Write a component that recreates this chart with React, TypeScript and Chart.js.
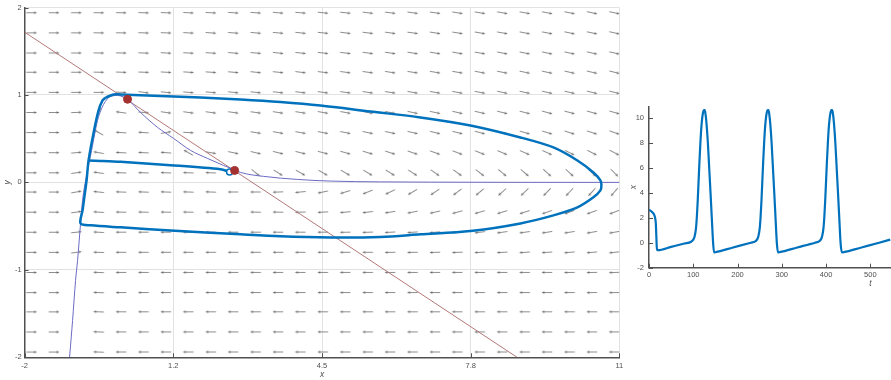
import React, { useEffect, useRef } from 'react';
import { Chart, registerables } from 'chart.js';

Chart.register(...registerables);

// ---------- main phase plane ----------
const X_TICKS = [-2, 1.25, 4.5, 7.75, 11];
const X_TICK_LABELS = ['-2', '1.2', '4.5', '7.8', '11'];
const Y_TICKS = [-2, -1, 0, 1, 2];

// direction-field grid
const FIELD_X = [-1.85, -1.36, -0.87, -0.38, 0.11, 0.6, 1.09, 1.58, 2.07, 2.56, 3.05, 3.54, 4.03, 4.52, 5.01, 5.5, 5.99, 6.48, 6.97, 7.46, 7.95, 8.44, 8.93, 9.42, 9.91, 10.4, 10.89];
const FIELD_Y = [1.94, 1.71, 1.48, 1.26, 1.03, 0.8, 0.57, 0.34, 0.11, -0.11, -0.34, -0.57, -0.8, -1.03, -1.26, -1.48, -1.71, -1.94];
// arrow direction on screen, degrees counter-clockwise from +x (null = arrow hidden under the nullcline)
const FIELD_ANGLE: (number | null)[][] = [
  [0, 0, 0, -1, -1, -2, -2, -3, -3, -4, -4, -5, -5, -6, -6, -7, -7, -8, -8, -9, -9, -10, -10, -11, -11, -12, -12],
  [0, 0, 0, -1, -1, -2, -2, -3, -4, -4, -5, -5, -6, -6, -7, -7, -8, -8, -9, -9, -10, -10, -11, -11, -12, -12, -13],
  [0, 0, 0, -1, -1, -2, -3, -3, -4, -5, -5, -6, -6, -7, -7, -8, -8, -9, -9, -10, -10, -11, -11, -12, -12, -13, -13],
  [0, 0, 0, -1, -2, -2, -3, -4, -4, -5, -6, -6, -7, -7, -8, -8, -9, -9, -10, -10, -11, -11, -12, -12, -13, -13, -14],
  [0, 0, 0, 0, -3, -8, -6, -5, -5, -6, -6, -7, -7, -8, -8, -9, -9, -10, -10, -11, -11, -12, -12, -13, -13, -14, -14],
  [0, 0, 2, 70, 172, -5, -8, -8, -8, -8, -8, -9, -9, -10, -10, -11, -11, -12, -12, -13, -13, -14, -14, -15, -15, -16, -16],
  [0, 0, 3, 150, 176, 176, 10, -3, -6, -8, -9, -10, -10, -11, -11, -12, -12, -13, -14, -14, -15, -16, -16, -17, -18, -18, -19],
  [0, 0, 5, 170, 177, 177, 176, 150, -10, -12, -13, -14, -14, -15, -16, -17, -18, -19, -20, -21, -22, -23, -24, -25, -26, -27, -28],
  [0, 0, 8, 172, 178, 178, 178, 178, 178, 175, -40, -32, -30, -30, -30, -31, -32, -33, -35, -36, -38, -40, -41, -42, -43, -44, -45],
  [0, 0, 10, 174, 178, 178, 178, 178, 178, 180, 180, 182, 186, 192, 197, 202, 206, 210, 214, 217, 220, 222, 224, 226, 227, 228, 229],
  [0, 0, 8, 176, 179, 179, 179, 179, 179, 179, 179, 179, 181, 183, 185, 187, 189, 191, 193, 195, 196, 197, 198, 199, 200, 200, 201],
  [0, 0, 6, 177, 180, 180, 180, 180, 180, 180, 180, 180, 180, 180, 181, 182, 183, 184, 185, 186, 187, 188, 188, 189, 189, 190, 190],
  [0, 0, 8, 178, 180, 180, 180, 180, 180, 180, 180, 180, 180, 180, 180, 180, 181, 181, 182, 182, 183, 183, 184, 184, 185, 185, 186],
  [0, 0, null, 178, 180, 180, 180, 180, 180, 180, 180, 180, 180, 180, 180, 180, 180, 180, 180, 180, 180, 180, 180, 180, 181, 181, 182],
  [0, 0, null, 178, 180, 180, 180, 180, 180, 180, 180, 180, 180, 180, 180, 180, 180, 180, 180, 180, 180, 180, 180, 180, 180, 181, 181],
  [0, 0, null, 178, 180, 180, 180, 180, 180, 180, 180, 180, 180, 180, 180, 180, 180, 180, 180, 180, 180, 180, 180, 180, 180, 180, 180],
  [0, 0, null, 178, 180, 180, 180, 180, 180, 180, 180, 180, 180, 180, 180, 180, 180, 180, 180, 180, 180, 180, 180, 180, 180, 180, 180],
  [0, 0, null, 178, 180, 180, 180, 180, 180, 180, 180, 180, 180, 180, 180, 180, 180, 180, 180, 180, 180, 180, 180, 180, 180, 180, 180],
];

// y-nullcline (straight line)
const Y_NULL_X = [-2, 8.763];
const Y_NULL_Y = [1.718, -2];

// x-nullcline (thin curve)
const X_NULL_X = [-1.017, -0.951, -0.886, -0.842, -0.777, -0.733, -0.645, -0.536, -0.405, -0.274, -0.121, 0.032, 0.25, 0.534, 0.906, 1.256, 1.627, 1.998, 2.348, 2.566, 2.719, 3.222, 3.965, 4.686, 5.778, 6.87, 8.5, 11];
const X_NULL_Y = [-2.0, -1.577, -1.12, -0.891, -0.469, -0.206, 0.08, 0.366, 0.709, 0.891, 0.983, 0.994, 0.949, 0.8, 0.629, 0.503, 0.366, 0.274, 0.194, 0.149, 0.114, 0.069, 0.034, 0.015, 0.006, 0.003, 0.001, 0];

// limit cycle (thick)
const CYCLE_X = [-0.23, -0.056, 0.097, 0.971, 1.845, 2.719, 3.593, 4.467, 5.559, 6.652, 7.744, 8.837, 9.558, 10.082, 10.432, 10.585, 10.607, 10.585, 10.432, 10.082, 9.558, 8.837, 7.744, 6.652, 5.778, 4.686, 3.593, 2.719, 1.19, 0.097, -0.558, -0.777, -0.733, -0.689, -0.645, -0.602, -0.48, -0.383, -0.296, -0.23];
const CYCLE_Y = [0.97, 1.006, 1.006, 0.989, 0.971, 0.949, 0.92, 0.88, 0.811, 0.743, 0.651, 0.514, 0.4, 0.251, 0.114, 0.023, -0.034, -0.091, -0.171, -0.286, -0.377, -0.469, -0.557, -0.594, -0.623, -0.629, -0.617, -0.594, -0.549, -0.514, -0.491, -0.469, -0.32, -0.149, 0.023, 0.251, 0.6, 0.823, 0.937, 0.97];

// transient trajectory from the start point
const TRANS_X = [2.48, 2.28, 1.19, 0.097, -0.34, -0.602];
const TRANS_Y = [0.12, 0.15, 0.197, 0.235, 0.246, 0.251];

// equilibria and start point
const EQ_X = [0.25, 2.59];
const EQ_Y = [0.951, 0.137];
const START_X = [2.48];
const START_Y = [0.12];

// ---------- inset time series ----------
const TS_T = [0, 4, 8, 12, 14, 15.5, 16.5, 17.5, 18.5,
  20, 50, 80, 95, 100, 103, 106, 108, 110, 112, 114, 116, 118, 120, 122, 124, 126, 128, 130, 133, 136, 139, 142, 145, 147,
  150, 190, 230, 240, 244, 247, 250, 252, 254, 256, 258, 260, 262, 264, 266, 268, 270, 272, 274, 277, 280, 283, 286, 289, 291.5,
  295, 335, 375, 384, 388, 391, 394, 396, 398, 400, 402, 404, 406, 408, 410, 412, 414, 416, 418, 421, 424, 427, 430, 433, 436,
  440, 480, 520, 545];
const TS_X = [2.62, 2.55, 2.42, 2.2, 1.95, 1.5, 0.6, -0.3, -0.6,
  -0.6, -0.33, -0.06, 0.08, 0.25, 0.5, 1.1, 2.0, 3.3, 4.9, 6.5, 7.9, 9.1, 9.9, 10.4, 10.6, 10.6, 10.2, 9.5, 8.0, 6.0, 4.0, 1.9, -0.1, -0.78,
  -0.76, -0.38, 0.0, 0.1, 0.25, 0.5, 1.1, 2.0, 3.3, 4.9, 6.5, 7.9, 9.1, 9.9, 10.4, 10.6, 10.6, 10.2, 9.5, 8.0, 6.0, 4.0, 1.9, -0.1, -0.78,
  -0.76, -0.38, 0.0, 0.1, 0.25, 0.5, 1.1, 2.0, 3.3, 4.9, 6.5, 7.9, 9.1, 9.9, 10.4, 10.6, 10.6, 10.2, 9.5, 8.0, 6.0, 4.0, 1.9, -0.1, -0.78,
  -0.76, -0.38, 0.0, 0.25];
const TS_Y_TICKS = [-2, 0, 2, 4, 6, 8, 10];

const FONT = 'Liberation Sans, Arial, Helvetica, sans-serif';
const BLUE = '#0072BD';
const AXIS = '#505050';
const TEXT = '#505050';

const pts = (xs: number[], ys: number[]) => xs.map((x, i) => ({ x, y: ys[i] }));

const inwardTicks = {
  id: 'inwardTicks',
  afterDatasetsDraw(chart: any, _args: any, opts: any) {
    const { ctx, chartArea } = chart;
    const xs = chart.scales.x;
    const ys = chart.scales.y;
    ctx.save();
    ctx.strokeStyle = opts.color || AXIS;
    ctx.lineWidth = 1;
    const len = opts.len || 4;
    xs.ticks.forEach((t: any) => {
      const p = Math.round(xs.getPixelForValue(t.value)) + 0.5;
      ctx.beginPath();
      ctx.moveTo(p, chartArea.bottom);
      ctx.lineTo(p, chartArea.bottom - len);
      ctx.stroke();
    });
    ys.ticks.forEach((t: any) => {
      const p = Math.round(ys.getPixelForValue(t.value)) + 0.5;
      ctx.beginPath();
      ctx.moveTo(chartArea.left, p);
      ctx.lineTo(chartArea.left + len, p);
      ctx.stroke();
    });
    ctx.restore();
  },
};

export default function App() {
  const mainRef = useRef<HTMLCanvasElement>(null);
  const insetRef = useRef<HTMLCanvasElement>(null);

  useEffect(() => {
    const arrowImg = document.createElement('canvas');
    arrowImg.width = 12;
    arrowImg.height = 7;
    const a = arrowImg.getContext('2d')!;
    a.strokeStyle = '#707070';
    a.fillStyle = '#6a6a6a';
    a.lineWidth = 0.8;
    a.beginPath();
    a.moveTo(0.8, 3.5);
    a.lineTo(9.8, 3.5);
    a.stroke();
    a.beginPath();
    a.moveTo(11.5, 3.5);
    a.lineTo(8.6, 2.3);
    a.lineTo(8.6, 4.7);
    a.closePath();
    a.fill();

    const fieldPoints: { x: number; y: number }[] = [];
    const fieldRot: number[] = [];
    FIELD_Y.forEach((y, k) => {
      FIELD_X.forEach((x, j) => {
        const ang = FIELD_ANGLE[k][j];
        if (ang === null) return;
        fieldPoints.push({ x, y });
        fieldRot.push(-ang);
      });
    });

    const tickFont = { family: FONT, size: 7.5 };
    const titleFont = { family: FONT, size: 8.5, style: 'italic' as const };

    const main = new Chart(mainRef.current!, {
      type: 'scatter',
      data: {
        datasets: [
          {
            data: pts(EQ_X, EQ_Y),
            pointRadius: 4,
            pointBackgroundColor: '#a3312f',
            pointBorderColor: '#a3312f',
            showLine: false,
          },
          {
            data: pts(START_X, START_Y),
            pointRadius: 3,
            pointBackgroundColor: '#ffffff',
            pointBorderColor: BLUE,
            pointBorderWidth: 1.5,
            showLine: false,
          },
          {
            data: pts(CYCLE_X, CYCLE_Y),
            showLine: true,
            borderColor: BLUE,
            borderWidth: 2.5,
            pointRadius: 0,
            tension: 0.3,
          },
          {
            data: pts(TRANS_X, TRANS_Y),
            showLine: true,
            borderColor: BLUE,
            borderWidth: 2.5,
            pointRadius: 0,
            tension: 0.3,
          },
          {
            data: pts(X_NULL_X, X_NULL_Y),
            showLine: true,
            borderColor: '#6b6bc4',
            borderWidth: 1,
            pointRadius: 0,
            cubicInterpolationMode: 'monotone',
          },
          {
            data: pts(Y_NULL_X, Y_NULL_Y),
            showLine: true,
            borderColor: '#b47878',
            borderWidth: 1,
            pointRadius: 0,
          },
          {
            data: fieldPoints,
            showLine: false,
            pointStyle: arrowImg as any,
            pointRadius: 5,
            pointRotation: fieldRot,
          },
        ] as any,
      },
      options: {
        responsive: false,
        animation: false,
        devicePixelRatio: 1,
        events: [],
        layout: { padding: { top: 7.3, right: 630 - 619.4, left: 0, bottom: 0 } },
        plugins: {
          legend: { display: false },
          tooltip: { enabled: false },
          inwardTicks: { len: 4, color: AXIS },
        } as any,
        scales: {
          x: {
            type: 'linear',
            min: -2,
            max: 11,
            afterBuildTicks: (s: any) => {
              s.ticks = X_TICKS.map((v) => ({ value: v }));
            },
            afterFit: (s: any) => {
              s.height = 380 - 357.3;
            },
            ticks: {
              callback: (_v: any, i: number) => X_TICK_LABELS[i],
              color: TEXT,
              font: tickFont,
              padding: 4,
              maxRotation: 0,
              autoSkip: false,
            },
            grid: { color: '#e2e2e2', drawTicks: false, lineWidth: 1 },
            border: { color: AXIS, width: 1.5 },
            title: { display: true, text: 'x', font: titleFont, color: TEXT, padding: { top: 0, bottom: 0 } },
          },
          y: {
            type: 'linear',
            min: -2,
            max: 2,
            afterBuildTicks: (s: any) => {
              s.ticks = Y_TICKS.map((v) => ({ value: v }));
            },
            afterFit: (s: any) => {
              s.width = 24.6;
            },
            ticks: { color: TEXT, font: tickFont, padding: 3 },
            grid: { color: '#e2e2e2', drawTicks: false, lineWidth: 1 },
            border: { color: AXIS, width: 1.5 },
            title: { display: true, text: 'y', font: titleFont, color: TEXT, padding: { top: 3, bottom: 0 } },
          },
        },
      } as any,
      plugins: [inwardTicks as any],
    });

    const inset = new Chart(insetRef.current!, {
      type: 'scatter',
      data: {
        datasets: [
          {
            data: pts(TS_T, TS_X),
            showLine: true,
            borderColor: BLUE,
            borderWidth: 2.2,
            pointRadius: 0,
            cubicInterpolationMode: 'monotone',
          },
        ] as any,
      },
      options: {
        responsive: false,
        animation: false,
        devicePixelRatio: 1,
        events: [],
        layout: { padding: { top: 11.7, right: 0, left: 0, bottom: 0 } },
        plugins: {
          legend: { display: false },
          tooltip: { enabled: false },
          inwardTicks: { len: 4, color: AXIS },
        } as any,
        scales: {
          x: {
            type: 'linear',
            min: 0,
            max: 1000,
            afterFit: (s: any) => {
              s.height = 200 - 172.7;
            },
            ticks: { stepSize: 100, color: TEXT, font: tickFont, padding: 3, maxRotation: 0, autoSkip: false },
            grid: { display: false, drawTicks: false },
            border: { color: AXIS, width: 1.5 },
            title: { display: true, text: 't', font: titleFont, color: TEXT, padding: { top: 0, bottom: 6.2 } },
          },
          y: {
            type: 'linear',
            min: -2,
            max: 10.88,
            afterBuildTicks: (s: any) => {
              s.ticks = TS_Y_TICKS.map((v) => ({ value: v }));
            },
            afterFit: (s: any) => {
              s.width = 27;
            },
            ticks: { color: TEXT, font: tickFont, padding: 5 },
            grid: { display: false, drawTicks: false },
            border: { color: AXIS, width: 1.5 },
            title: { display: true, text: 'x', font: titleFont, color: TEXT, padding: { top: 6.2, bottom: 0 } },
          },
        },
      } as any,
      plugins: [inwardTicks as any],
    });

    return () => {
      main.destroy();
      inset.destroy();
    };
  }, []);

  return (
    <div
      style={{
        position: 'absolute',
        left: 0,
        top: 0,
        width: 891,
        height: 380,
        overflow: 'hidden',
        background: '#ffffff',
      }}
    >
      <canvas ref={mainRef} width={630} height={380} style={{ position: 'absolute', left: 0, top: 0 }} />
      <canvas ref={insetRef} width={482} height={200} style={{ position: 'absolute', left: 622, top: 95 }} />
    </div>
  );
}
